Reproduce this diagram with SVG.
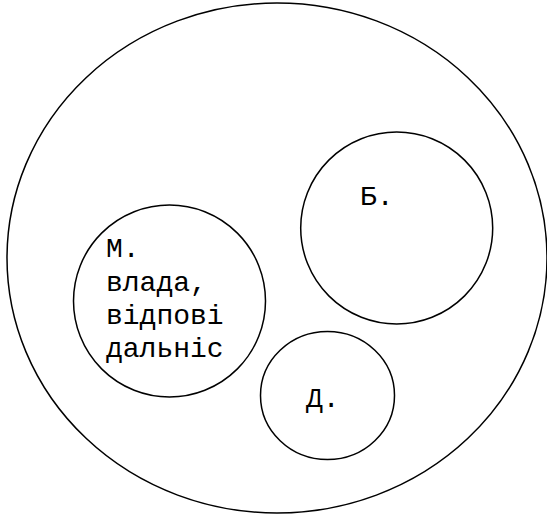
<svg xmlns="http://www.w3.org/2000/svg" width="547" height="516" viewBox="0 0 547 516">
<style>
.s{fill:none;stroke:#000;stroke-width:1.5}
.t{font-family:"Liberation Mono","Courier New",monospace;font-size:28px;fill:#000}
</style>
<rect width="547" height="516" fill="#fff"/>
<g id="outer"><ellipse class="s" cx="277" cy="258" rx="270" ry="255"/></g>
<g id="node-m"><circle class="s" cx="169.5" cy="301" r="96"/>
<text class="t" x="106"><tspan x="106" y="257">М.</tspan><tspan x="106" y="291">влада,</tspan><tspan x="106" y="324">відпові</tspan><tspan x="106" y="357">дальніс</tspan></text></g>
<g id="node-b"><circle class="s" cx="396.7" cy="228" r="96"/>
<text class="t" x="360" y="205">Б.</text></g>
<g id="node-d"><ellipse class="s" cx="327.5" cy="395.5" rx="67" ry="64"/>
<text class="t" x="306" y="407">Д.</text></g>
<g id="connectors"/>
</svg>
